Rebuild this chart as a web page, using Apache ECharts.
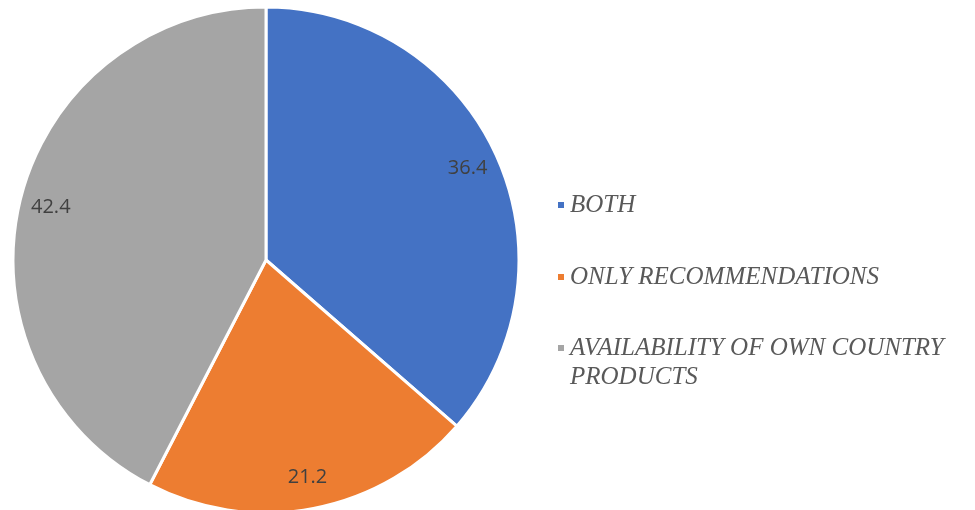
<!DOCTYPE html>
<html>
<head>
<meta charset="utf-8">
<script src="https://cdn.jsdelivr.net/npm/echarts@6/dist/echarts.min.js"></script>
<style>
  html, body { margin: 0; padding: 0; background: #ffffff; }
  #chart { width: 975px; height: 510px; }
</style>
</head>
<body>
<div id="chart"></div>
<script>
// Survey shares (percent)
const categories = ['BOTH', 'ONLY RECOMMENDATIONS', 'AVAILABILITY OF OWN COUNTRY PRODUCTS'];
const values = [36.4, 21.2, 42.4];
const colors = ['#4472C4', '#ED7D31', '#A5A5A5'];
// Legend text; the long label wraps, with a blank lead line so the marker sits beside its first line
const legendLabels = ['BOTH', 'ONLY RECOMMENDATIONS', ' \nAVAILABILITY OF OWN COUNTRY\nPRODUCTS'];

const CX = 266, CY = 260, R = 253;

const pieData = categories.map((name, i) => ({
  name: name,
  value: values[i],
  itemStyle: { color: colors[i] }
}));

const legendText = {
  fontFamily: '"Liberation Serif", "Times New Roman", serif',
  fontStyle: 'italic',
  fontSize: 25,
  color: '#595959',
  lineHeight: 29
};

function makeLegend(i, top) {
  return {
    data: [categories[i]],
    left: 556,
    top: top,
    orient: 'vertical',
    padding: 0,
    icon: 'rect',
    itemWidth: 8,
    itemHeight: 8,
    itemGap: 0,
    selectedMode: false,
    formatter: () => legendLabels[i],
    textStyle: legendText
  };
}

const chart = echarts.init(document.getElementById('chart'), null, { renderer: 'canvas' });
chart.setOption({
  animation: false,
  backgroundColor: '#ffffff',
  legend: [
    makeLegend(0, 190.5),
    makeLegend(1, 262.5),
    makeLegend(2, 304.5)
  ],
  series: [
    {
      name: 'shares',
      type: 'pie',
      center: [CX, CY],
      radius: [0, R],
      startAngle: 90,
      clockwise: true,
      label: { show: false },
      labelLine: { show: false },
      itemStyle: { borderColor: '#ffffff', borderWidth: 3 },
      emphasis: { disabled: true },
      data: pieData
    },
    {
      // transparent ring that carries the value labels near the rim
      name: 'labels',
      type: 'pie',
      center: [CX, CY],
      radius: [184, R],
      startAngle: 90,
      clockwise: true,
      silent: true,
      legendHoverLink: false,
      itemStyle: { color: 'rgba(0,0,0,0)', borderWidth: 0 },
      label: {
        show: true,
        position: 'inside',
        formatter: p => p.value.toFixed(1),
        fontFamily: '"Open Sans", "Liberation Sans", sans-serif',
        fontSize: 20,
        color: '#404040'
      },
      labelLine: { show: false },
      emphasis: { disabled: true },
      data: categories.map((name, i) => ({ name: name + ' ', value: values[i] }))
    }
  ]
});
</script>
</body>
</html>
